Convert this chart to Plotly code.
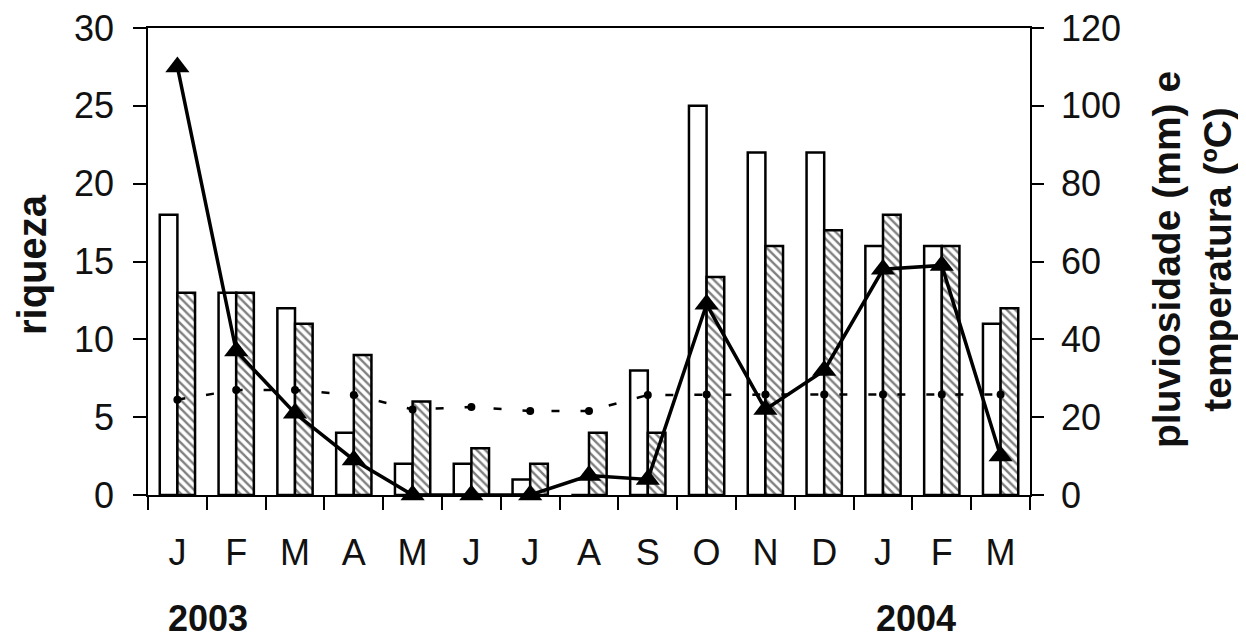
import plotly.graph_objects as go

months = ["J", "F", "M", "A", "M", "J", "J", "A", "S", "O", "N", "D", "J", "F", "M"]
cats = [f"{m}_{i}" for i, m in enumerate(months)]

riqueza_a = [18, 13, 12, 4, 2, 2, 1, 0, 8, 25, 22, 22, 16, 16, 11]
riqueza_b = [13, 13, 11, 9, 6, 3, 2, 4, 4, 14, 16, 17, 18, 16, 12]
pluviosidade = [110, 37, 21, 9, 0, 0, 0, 5, 4, 49, 22, 32, 58, 59, 10]
temperatura = [24.5, 27, 27, 25.7, 22, 22.6, 21.6, 21.6, 25.7, 25.8, 25.8, 25.8, 25.8, 25.8, 25.8]

FONT = "Liberation Sans, Arial, sans-serif"

fig = go.Figure()
fig.add_trace(go.Bar(x=cats, y=riqueza_a, yaxis="y", name="a",
                     marker=dict(color="white", line=dict(color="black", width=2.5))))
fig.add_trace(go.Bar(x=cats, y=riqueza_b, yaxis="y", name="b",
                     marker=dict(color="white", line=dict(color="black", width=2.5),
                                 pattern=dict(shape="\\", fgcolor="black", bgcolor="white",
                                              size=6, solidity=0.4))))
fig.add_trace(go.Scatter(x=cats, y=temperatura, yaxis="y2", mode="lines+markers",
                         line=dict(color="black", width=2.5, dash="8px,21px"),
                         marker=dict(symbol="circle", size=8, color="black")))
fig.add_trace(go.Scatter(x=cats, y=pluviosidade, yaxis="y2", mode="lines+markers",
                         line=dict(color="black", width=3.5),
                         marker=dict(symbol="triangle-up", size=21, color="black"),
                         cliponaxis=False))

# page body adds an 8px offset; compensate so the plot area lands at x 148-1030, y 28-495
fig.update_layout(
    width=1238, height=631,
    margin=dict(l=140, r=216, t=20, b=144, autoexpand=False),
    paper_bgcolor="white", plot_bgcolor="white",
    showlegend=False,
    barmode="group", bargap=0.4, bargroupgap=0,
    font=dict(family=FONT, color="#111", size=35),
    xaxis=dict(type="category", tickmode="array", tickvals=cats, ticktext=months,
               range=[-0.5, len(cats) - 0.5],
               tickson="boundaries", ticks="outside", ticklen=13, tickwidth=1.5,
               tickcolor="black", showline=True, linecolor="black", linewidth=1.5,
               mirror=True, showgrid=False, zeroline=False, automargin=False,
               tickfont=dict(size=36), ticklabelstandoff=25),
    yaxis=dict(range=[0, 30], dtick=5, ticks="outside", ticklen=13, tickwidth=1.5,
               tickcolor="black", showline=True, linecolor="black", linewidth=1.5,
               showgrid=False, zeroline=False, tickfont=dict(size=36),
               automargin=False, ticklabelstandoff=12, ticklabeloverflow="allow"),
    yaxis2=dict(range=[0, 120], dtick=20, overlaying="y", side="right",
                ticks="outside", ticklen=12, tickwidth=1.5, tickcolor="black",
                showline=True, linecolor="black", linewidth=1.5, automargin=False,
                showgrid=False, zeroline=False, tickfont=dict(size=36),
                ticklabelstandoff=10, ticklabeloverflow="allow"),
    annotations=[
        dict(text="<b>riqueza</b>", textangle=-90, xref="paper", yref="paper",
             x=(32 - 148) / 882, y=(495 - 265) / 467, showarrow=False,
             xanchor="center", yanchor="middle", font=dict(size=40, color="#111")),
        dict(text="<b>pluviosidade (mm) e<br>temperatura (ºC)</b>", textangle=-90,
             xref="paper", yref="paper", x=(1192 - 148) / 882, y=(495 - 260) / 467,
             showarrow=False, xanchor="center", yanchor="middle",
             font=dict(size=39, color="#111")),
        dict(text="<b>2003</b>", xref="paper", yref="paper",
             x=(208 - 148) / 882, y=-(618 - 495) / 467, showarrow=False,
             xanchor="center", yanchor="middle", font=dict(size=36, color="#111")),
        dict(text="<b>2004</b>", xref="paper", yref="paper",
             x=(916 - 148) / 882, y=-(618 - 495) / 467, showarrow=False,
             xanchor="center", yanchor="middle", font=dict(size=36, color="#111")),
    ],
)

fig.write_html("out.html")
